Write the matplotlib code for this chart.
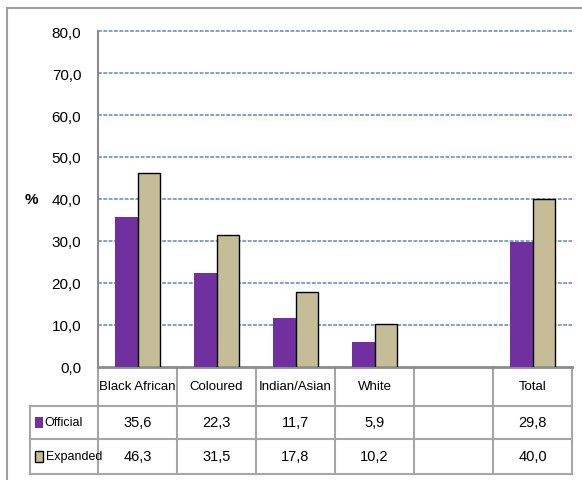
import numpy as np
import matplotlib.pyplot as plt
from matplotlib.patches import Rectangle
import matplotlib.transforms as mtransforms

plt.rcParams['font.family'] = ['Liberation Sans', 'DejaVu Sans']

# data
categories = ["Black African", "Coloured", "Indian/Asian", "White", "", "Total"]
official = [35.6, 22.3, 11.7, 5.9, np.nan, 29.8]
expanded = [46.3, 31.5, 17.8, 10.2, np.nan, 40.0]
series_names = ["Official", "Expanded"]
yticks = [0, 10, 20, 30, 40, 50, 60, 70, 80]

c_off = '#7030A0'
c_exp = '#C4BD97'
grid_c = '#5B87C8'
line_c = '#A6A6A6'

W, H = 582, 481
fig = plt.figure(figsize=(W / 100, H / 100), dpi=100)
ax = fig.add_axes([98 / W, (H - 368) / H, 474 / W, 336 / H])

x = np.arange(len(categories))
w = 0.285
ax.bar(x - w / 2, official, w, color=c_off, zorder=3)
ax.bar(x + w / 2, expanded, w, color=c_exp, edgecolor='black', linewidth=1, zorder=3)

ax.set_xlim(-0.5, len(categories) - 0.5)
ax.set_ylim(0, 80)
ax.set_yticks(yticks)
ax.set_yticklabels([f"{v:.1f}".replace('.', ',') for v in yticks], fontsize=11)
ax.tick_params(axis='y', length=0, pad=12)
ax.set_xticks([])
for v in yticks[1:]:
    ax.axhline(v, color=grid_c, lw=1.1, ls=(0, (2.5, 1)), zorder=1, clip_on=False)

for s in ['top', 'right']:
    ax.spines[s].set_visible(False)
ax.spines['left'].set_color('#8C8C8C')
ax.spines['left'].set_linewidth(1.5)
ax.spines['bottom'].set_color('#8C8C8C')
ax.spines['bottom'].set_linewidth(2)

ax.text(-0.14, 0.5, '%', transform=ax.transAxes, fontsize=11, fontweight='bold',
        ha='center', va='center')

# table below axes: x in data, y in axes fraction
tr = mtransforms.blended_transform_factory(ax.transData, ax.transAxes)
row_y = [0, -0.116, -0.214, -0.318]
x_left = -0.5 - 68 / 79  # row label column
x_right = len(categories) - 0.5

# horizontal lines
for yy in row_y[1:]:
    ax.plot([x_left, x_right], [yy, yy], color=line_c, lw=1.5, transform=tr, clip_on=False)
# vertical lines
for i in range(len(categories) + 1):
    xx = i - 0.5
    ax.plot([xx, xx], [row_y[0], row_y[-1]], color=line_c, lw=1.5, transform=tr, clip_on=False)
ax.plot([x_left, x_left], [row_y[1], row_y[-1]], color=line_c, lw=1.5, transform=tr, clip_on=False)

# header text
for i, cat in enumerate(categories):
    ax.text(i, (row_y[0] + row_y[1]) / 2, cat, transform=tr, ha='center', va='center',
            fontsize=9.5, clip_on=False)

# row values
rows = [official, expanded]
for r, vals in enumerate(rows):
    yc = (row_y[r + 1] + row_y[r + 2]) / 2
    for i, v in enumerate(vals):
        txt = "" if np.isnan(v) else f"{v:.1f}".replace('.', ',')
        ax.text(i, yc, txt, transform=tr, ha='center', va='center', fontsize=10.5, clip_on=False)

# row labels with legend keys
keys = [(c_off, 'none'), (c_exp, 'black')]
for r, name in enumerate(series_names):
    yc = (row_y[r + 1] + row_y[r + 2]) / 2
    kx = x_left + 5 / 79
    ax.add_patch(Rectangle((kx, yc - 0.016), 8 / 79, 0.032, facecolor=keys[r][0],
                           edgecolor=keys[r][1], lw=1, transform=tr, clip_on=False))
    ax.text(kx + 9 / 79 + (0.02 if r else 0), yc, name, transform=tr, ha='left', va='center',
            fontsize=9, clip_on=False)

# outer chart frame
fig.patches.append(Rectangle((7 / W, -0.1), 1.2, (H - 9) / H + 0.1, transform=fig.transFigure,
                             facecolor='none', edgecolor='#A0A0A0', lw=1.5))

fig.savefig('out.png', dpi=100)
